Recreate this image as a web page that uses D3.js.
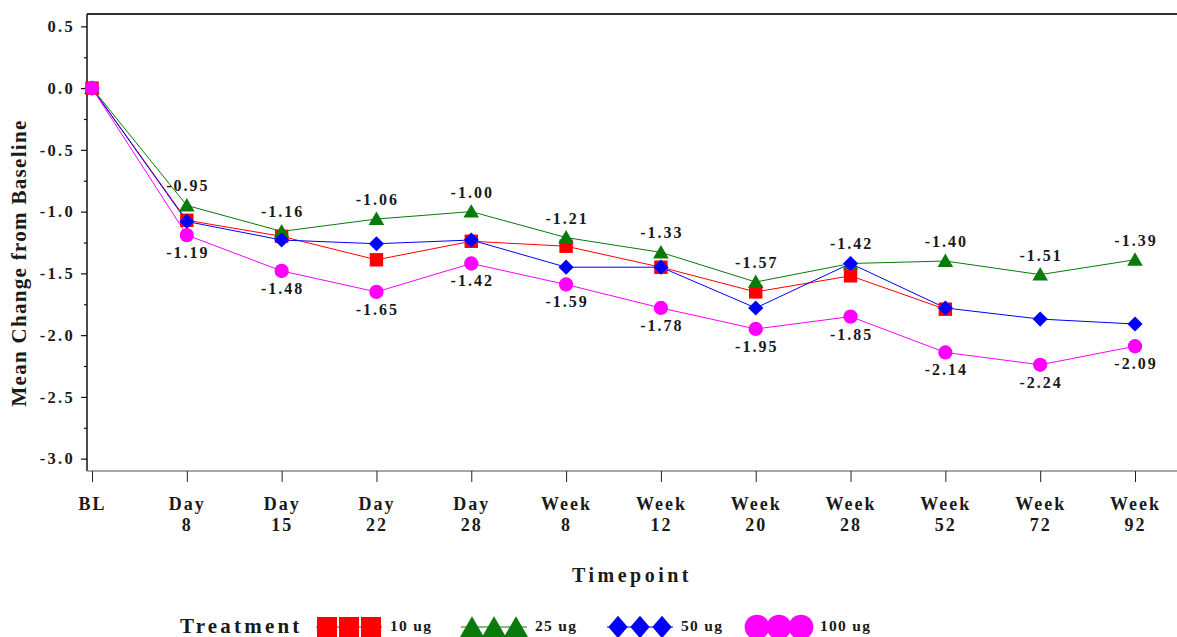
<!DOCTYPE html>
<html>
<head>
<meta charset="utf-8">
<script src="https://cdn.jsdelivr.net/npm/d3@7/dist/d3.min.js"></script>
<style>
  html, body { margin: 0; padding: 0; background: #fff; }
  svg { display: block; }
  text { font-family: "Liberation Serif", "Times New Roman", serif; font-weight: bold; fill: #1a1a1a; }
</style>
</head>
<body>
<svg id="chart" width="1177" height="637"></svg>
<script>
// ---- data ----
const timepoints = ["BL", "Day 8", "Day 15", "Day 22", "Day 28", "Week 8", "Week 12", "Week 20", "Week 28", "Week 52", "Week 72", "Week 92"];
const tickLine1 = ["BL", "Day", "Day", "Day", "Day", "Week", "Week", "Week", "Week", "Week", "Week", "Week"];
const tickLine2 = ["", "8", "15", "22", "28", "8", "12", "20", "28", "52", "72", "92"];
const yTicks = [0.5, 0.0, -0.5, -1.0, -1.5, -2.0, -2.5, -3.0];
const yMinorTicks = [0.25, -0.25, -0.75, -1.25, -1.75, -2.25, -2.75];
const seriesNames = ["10 ug", "25 ug", "50 ug", "100 ug"];
const ug10 = [0, -1.07, -1.20, -1.39, -1.24, -1.28, -1.45, -1.65, -1.52, -1.79, null, null];
const ug25 = [0, -0.95, -1.16, -1.06, -1.00, -1.21, -1.33, -1.57, -1.42, -1.40, -1.51, -1.39];
const ug50 = [0, -1.08, -1.23, -1.26, -1.23, -1.45, -1.45, -1.78, -1.42, -1.78, -1.87, -1.91];
const ug100 = [0, -1.19, -1.48, -1.65, -1.42, -1.59, -1.78, -1.95, -1.85, -2.14, -2.24, -2.09];
// labelled values (25 ug above, 100 ug below), skipping BL
const labelAbove = ug25;
const labelBelow = ug100;

// ---- styling ----
const colors = ["#ff0000", "#0a7a0a", "#0000ff", "#ff00ff"];
const symbols = [d3.symbolSquare, d3.symbolTriangle, d3.symbolSquare, d3.symbolCircle];
const symRot = [0, 0, 45, 0];
const symSizes = [180, 105, 115, 160];
const allSeries = [ug10, ug25, ug50, ug100];

const svg = d3.select("#chart");
const mLeft = 87, mTop = 14, mRight = 1177, mBottom = 471;

const x = d3.scalePoint().domain(timepoints).range([92, 1135]);
const y = d3.scaleLinear().domain([-3.1, 0.6]).range([mBottom, mTop]);
const fmt = v => d3.format(".1f")(v).replace("\u2212", "-");
const fmt2 = v => d3.format(".2f")(v).replace("\u2212", "-");

// frame: top border
svg.append("line").attr("x1", mLeft).attr("x2", mRight).attr("y1", mTop).attr("y2", mTop)
  .attr("stroke", "#333").attr("stroke-width", 2);

// y axis
const yAxis = svg.append("g").attr("transform", `translate(${mLeft},0)`)
  .call(d3.axisLeft(y).tickValues(yTicks).tickFormat(fmt).tickSize(6).tickPadding(6));
yAxis.select(".domain").attr("stroke", "#111").attr("stroke-width", 1.5)
  .attr("d", `M0,${mTop}V${mBottom}`);
yAxis.selectAll(".tick line").attr("stroke", "#111").attr("stroke-width", 1.2);
yAxis.selectAll(".tick text").attr("font-size", 16.5).attr("letter-spacing", 2.3)
  .attr("fill", "#1a1a1a").attr("font-family", "Liberation Serif").attr("font-weight", "bold");
svg.append("g").attr("transform", `translate(${mLeft},0)`)
  .call(d3.axisLeft(y).tickValues(yMinorTicks).tickFormat("").tickSize(3))
  .call(g => g.select(".domain").remove())
  .selectAll(".tick line").attr("stroke", "#111").attr("stroke-width", 1.2);

// x axis
const xAxis = svg.append("g").attr("transform", `translate(0,${mBottom})`)
  .call(d3.axisBottom(x).tickSize(11).tickFormat(""));
xAxis.select(".domain").attr("stroke", "#888").attr("stroke-width", 1.5)
  .attr("d", `M${mLeft},0H${mRight}`);
xAxis.selectAll(".tick line").attr("stroke", "#222").attr("stroke-width", 1);
xAxis.selectAll(".tick").each(function(d, i) {
  const g = d3.select(this);
  g.append("text").attr("y", 39).attr("text-anchor", "middle").attr("font-size", 18)
    .attr("letter-spacing", 2).text(tickLine1[i]);
  g.append("text").attr("y", 60).attr("text-anchor", "middle").attr("font-size", 18)
    .attr("letter-spacing", 2).text(tickLine2[i]);
});

// axis titles
svg.append("text").attr("x", 632).attr("y", 582).attr("text-anchor", "middle")
  .attr("font-size", 20).attr("letter-spacing", 3.5).text("Timepoint");
svg.append("text").attr("transform", "translate(26,263) rotate(-90)").attr("text-anchor", "middle")
  .attr("font-size", 21).attr("letter-spacing", 1.3).text("Mean Change from Baseline");

// series
const line = d3.line().defined(d => d != null).x((d, i) => x(timepoints[i])).y(d => y(d));
allSeries.forEach((s, k) => {
  svg.append("path").datum(s).attr("d", line).attr("fill", "none")
    .attr("stroke", colors[k]).attr("stroke-width", 1);
});
allSeries.forEach((s, k) => {
  svg.append("g").selectAll("path").data(s.map((v, i) => ({v, i})).filter(d => d.v != null))
    .join("path")
    .attr("d", d3.symbol().type(symbols[k]).size(symSizes[k]))
    .attr("transform", d => `translate(${x(timepoints[d.i])},${y(d.v) + (k === 1 ? 1.5 : 0)}) rotate(${symRot[k]})`)
    .attr("fill", colors[k]);
});

// value labels
svg.append("g").selectAll("text").data(labelAbove.map((v, i) => ({v, i})).filter(d => d.i > 0))
  .join("text").attr("x", d => x(timepoints[d.i]) + 1).attr("y", d => y(d.v) - 14)
  .attr("text-anchor", "middle").attr("font-size", 16).attr("letter-spacing", 2)
  .text(d => fmt2(d.v));
svg.append("g").selectAll("text").data(labelBelow.map((v, i) => ({v, i})).filter(d => d.i > 0))
  .join("text").attr("x", d => x(timepoints[d.i]) + 1).attr("y", d => y(d.v) + 23)
  .attr("text-anchor", "middle").attr("font-size", 16).attr("letter-spacing", 2)
  .text(d => fmt2(d.v));

// legend
const legY = 627;
svg.append("text").attr("x", 180).attr("y", 633).attr("font-size", 21).attr("letter-spacing", 3.2)
  .text("Treatment");
const legX = [316, 461, 607, 746];
const legSizes = [400, 250, 230, 480];
seriesNames.forEach((name, k) => {
  const g = svg.append("g");
  const x0 = legX[k];
  g.append("line").attr("x1", x0).attr("x2", x0 + 66).attr("y1", legY).attr("y2", legY)
    .attr("stroke", colors[k]).attr("stroke-width", 1);
  [0, 1, 2].forEach(j => {
    g.append("path").attr("d", d3.symbol().type(symbols[k]).size(legSizes[k]))
      .attr("transform", `translate(${x0 + 11 + j * 22},${legY + (k === 1 ? 3 : 0)})` + (k === 2 ? " scale(0.9,1.05) rotate(45)" : ""))
      .attr("fill", colors[k]);
  });
  g.append("text").attr("x", x0 + 74).attr("y", 631).attr("font-size", 15.5).attr("letter-spacing", 1.3)
    .text(name);
});
</script>
</body>
</html>
